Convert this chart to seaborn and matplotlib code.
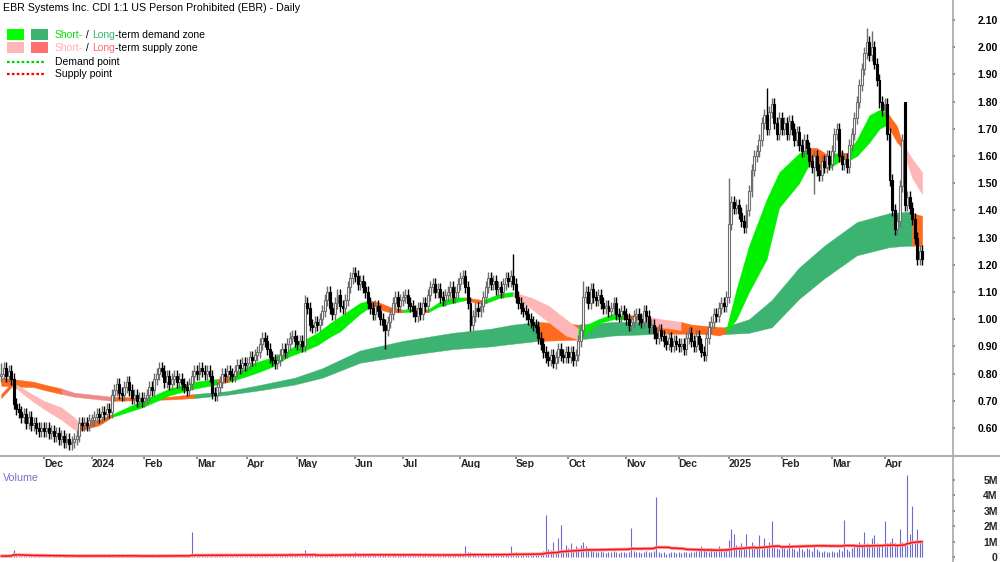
import matplotlib
matplotlib.use("Agg")
import matplotlib.pyplot as plt
import seaborn as sns
import pandas as pd
import numpy as np
from matplotlib.lines import Line2D
from matplotlib.patches import Rectangle

sns.set_theme(style="white")
plt.rcParams["font.family"] = ["Liberation Sans", "DejaVu Sans"]

TITLE = "EBR Systems Inc. CDI 1:1 US Person Prohibited (EBR) - Daily"

# ASX non-trading days inside the window
HOLIDAYS = ["2023-12-25", "2023-12-26", "2024-01-01", "2024-01-26", "2024-03-29",
            "2024-04-01", "2024-04-25", "2024-06-10", "2024-12-25", "2024-12-26",
            "2025-01-01", "2025-01-27", "2025-04-18", "2025-04-21"]

# daily closes, one line per month (Nov 2023 .. Apr 2025)
close = [
    0.80, 0.82, 0.79, 0.81, 0.78, 0.69, 0.67, 0.66, 0.64, 0.65, 0.62, 0.64, 0.61, 0.62, 0.60, 0.59, 0.60,
    0.59, 0.60, 0.58, 0.59, 0.57, 0.58, 0.56, 0.57, 0.55, 0.56, 0.54, 0.55, 0.56, 0.57, 0.62, 0.61, 0.62, 0.61, 0.63,
    0.63, 0.64, 0.65, 0.64, 0.66, 0.65, 0.67, 0.66, 0.72, 0.74, 0.76, 0.73, 0.72, 0.75, 0.77, 0.74, 0.71, 0.72, 0.70, 0.71, 0.70,
    0.71, 0.72, 0.75, 0.74, 0.78, 0.80, 0.82, 0.81, 0.77, 0.79, 0.76, 0.78, 0.79, 0.77, 0.78, 0.76, 0.75, 0.74, 0.76, 0.79, 0.81,
    0.80, 0.82, 0.81, 0.80, 0.81, 0.79, 0.73, 0.72, 0.75, 0.77, 0.80, 0.79, 0.81, 0.80, 0.79, 0.81, 0.83, 0.82, 0.84, 0.83,
    0.84, 0.86, 0.85, 0.87, 0.88, 0.91, 0.93, 0.92, 0.89, 0.86, 0.85, 0.84, 0.85, 0.87, 0.89, 0.88, 0.91, 0.93, 0.94, 0.92,
    0.91, 0.92, 0.90, 1.06, 1.04, 0.98, 0.97, 0.99, 0.98, 1.00, 1.03, 1.07, 1.10, 1.04, 1.02, 1.06, 1.09, 1.05, 1.04, 1.07, 1.12, 1.15, 1.17,
    1.16, 1.13, 1.14, 1.12, 1.10, 1.06, 1.04, 1.02, 1.05, 1.03, 1.00, 0.98, 0.96, 0.99, 1.02, 1.06, 1.08, 1.05, 1.07,
    1.08, 1.09, 1.06, 1.05, 1.03, 1.01, 1.04, 1.02, 1.06, 1.05, 1.09, 1.12, 1.13, 1.10, 1.11, 1.08, 1.07, 1.09, 1.10, 1.12, 1.08, 1.10, 1.13,
    1.15, 1.16, 1.12, 1.06, 0.98, 1.01, 1.04, 1.03, 1.05, 1.08, 1.12, 1.15, 1.13, 1.14, 1.11, 1.12, 1.10, 1.13, 1.15, 1.14, 1.16, 1.13,
    1.08, 1.06, 1.04, 1.03, 1.02, 1.00, 0.99, 0.98, 0.97, 0.93, 0.91, 0.88, 0.86, 0.85, 0.87, 0.84, 0.86, 0.89, 0.87, 0.86, 0.88,
    0.86, 0.88, 0.85, 0.87, 0.92, 0.96, 1.08, 1.10, 1.06, 1.11, 1.08, 1.07, 1.09, 1.06, 1.04, 1.05, 1.03, 1.04, 1.06, 1.02, 1.01, 1.03, 1.02,
    1.00, 0.98, 0.99, 1.01, 1.02, 1.00, 0.99, 1.03, 1.01, 0.97, 0.98, 0.95, 0.93, 0.96, 0.94, 0.92, 0.91, 0.93, 0.90, 0.92, 0.91,
    0.90, 0.91, 0.89, 0.93, 0.95, 0.92, 0.90, 0.94, 0.91, 0.88, 0.87, 0.93, 0.97, 0.99, 1.02, 1.01, 1.04, 1.06, 1.05, 1.08,
    1.35, 1.43, 1.41, 1.42, 1.39, 1.36, 1.34, 1.40, 1.47, 1.55, 1.60, 1.62, 1.66, 1.72, 1.75, 1.70, 1.76, 1.79, 1.72, 1.68, 1.74,
    1.70, 1.72, 1.68, 1.73, 1.70, 1.66, 1.69, 1.64, 1.62, 1.66, 1.63, 1.58, 1.56, 1.60, 1.55, 1.53, 1.58, 1.56, 1.60, 1.57,
    1.62, 1.68, 1.70, 1.60, 1.57, 1.59, 1.56, 1.64, 1.68, 1.74, 1.80, 1.86, 1.92, 1.98, 2.02, 1.97, 2.00, 1.94, 1.88, 1.80, 1.77,
    1.79, 1.68, 1.51, 1.40, 1.33, 1.36, 1.49, 1.66, 1.42, 1.45, 1.41, 1.37, 1.30, 1.22, 1.25, 1.22,
]

# daily volume in thousands of shares, one line per month
volume_k = [
    60, 80, 50, 90, 120, 450, 150, 90, 70, 60, 80, 50, 40, 60, 70, 40, 50,
    50, 40, 60, 30, 50, 40, 70, 30, 50, 40, 60, 50, 30, 40, 120, 80, 60, 50, 70,
    60, 50, 40, 70, 60, 50, 80, 60, 200, 150, 120, 90, 80, 110, 130, 90, 70, 60, 50, 60, 40,
    50, 60, 90, 70, 130, 110, 150, 100, 80, 70, 60, 90, 70, 60, 80, 50, 60, 70, 90, 1600, 120,
    150, 100, 80, 70, 60, 90, 200, 150, 100, 80, 70, 60, 80, 50, 60, 70, 90, 80, 60, 70,
    80, 100, 90, 120, 150, 200, 180, 120, 100, 90, 80, 70, 90, 100, 150, 110, 200, 250, 180, 120,
    100, 90, 80, 450, 250, 150, 120, 100, 90, 110, 130, 200, 180, 120, 100, 130, 150, 110, 90, 120, 180, 200, 250,
    300, 200, 150, 120, 100, 130, 110, 90, 100, 80, 120, 150, 200, 110, 90, 130, 150, 100, 120,
    110, 100, 90, 120, 100, 80, 110, 90, 130, 100, 150, 180, 160, 120, 100, 90, 110, 120, 140, 160, 110, 130, 150,
    180, 200, 700, 300, 350, 200, 150, 140, 130, 160, 180, 250, 200, 150, 140, 160, 130, 150, 200, 180, 700, 250,
    300, 200, 180, 160, 150, 200, 180, 160, 220, 250, 300, 400, 2700, 500, 450, 1000, 350, 1200, 2100, 400, 800,
    600, 900, 500, 700, 600, 800, 1000, 700, 500, 500, 400, 300, 350, 400, 300, 250, 300, 350, 400, 300, 250, 300, 350,
    250, 300, 1900, 400, 350, 300, 250, 300, 400, 350, 300, 400, 3850, 300, 250, 300, 200, 250, 300, 350, 250,
    300, 250, 350, 300, 250, 300, 350, 400, 450, 700, 500, 400, 350, 600, 400, 450, 700, 500, 400, 600,
    1100, 1800, 1500, 800, 700, 900, 600, 1500, 700, 1000, 800, 600, 1400, 500, 1200, 600, 1000, 2300, 700, 600, 500,
    800, 600, 500, 900, 600, 500, 400, 700, 500, 400, 600, 500, 400, 800, 500, 400, 350, 400, 300, 350,
    400, 300, 350, 500, 400, 2400, 500, 400, 600, 800, 700, 1000, 800, 1600, 900, 800, 1200, 1400, 900, 700, 800,
    2300, 900, 1000, 1200, 900, 800, 1800, 1000, 900, 5300, 1500, 3300, 1100, 1800, 1100, 1000,
]

# notable gaps and wicks
open_fix = {"2025-04-11": 1.80}
high_fix = {"2023-11-08": 0.84, "2024-05-06": 1.09, "2024-08-30": 1.24, "2024-10-09": 1.14,
            "2025-01-02": 1.52, "2025-01-23": 1.85, "2025-03-21": 2.07, "2025-03-25": 2.06,
            "2025-04-11": 1.80}
low_fix = {"2024-03-12": 0.70, "2024-06-20": 0.89, "2024-09-23": 0.82, "2024-12-13": 0.86,
           "2025-02-20": 1.46}

# short-term zone band: bar number, upper, lower, state (d demand, s supply, x turning)
short_bar = [0, 5, 6, 13, 17, 24, 29, 31, 39, 44, 56, 67, 77, 86, 91, 101, 108, 114, 121, 126,
             131, 135, 143, 147, 151, 155, 160, 165, 170, 174, 180, 185, 192, 199, 204, 211, 218,
             225, 230, 238, 244, 248, 255, 263, 271, 279, 286, 289, 293, 298, 305, 310, 318, 322,
             325, 330, 334, 337, 341, 346, 350, 353, 357, 359, 363, 367]
short_top = [0.725, 0.775, 0.76, 0.72, 0.70, 0.675, 0.64, 0.62, 0.63, 0.65, 0.70, 0.745, 0.77, 0.78,
             0.79, 0.84, 0.86, 0.885, 0.925, 0.95, 0.985, 1.01, 1.06, 1.07, 1.06, 1.045, 1.035, 1.04,
             1.035, 1.06, 1.08, 1.08, 1.07, 1.095, 1.10, 1.08, 1.05, 1.00, 0.965, 1.00, 1.02, 1.015,
             1.015, 1.00, 0.99, 0.97, 0.965, 0.965, 1.11, 1.27, 1.44, 1.54, 1.61, 1.63, 1.63, 1.60,
             1.615, 1.61, 1.66, 1.75, 1.77, 1.76, 1.71, 1.65, 1.59, 1.54]
short_bot = [0.71, 0.76, 0.745, 0.695, 0.67, 0.63, 0.595, 0.59, 0.61, 0.64, 0.675, 0.72, 0.745, 0.76,
             0.77, 0.80, 0.825, 0.86, 0.885, 0.905, 0.935, 0.955, 1.02, 1.045, 1.035, 1.025, 1.025, 1.03,
             1.025, 1.045, 1.06, 1.07, 1.055, 1.08, 1.085, 1.04, 0.99, 0.94, 0.925, 0.985, 1.00, 1.00,
             0.997, 0.97, 0.96, 0.95, 0.94, 0.95, 1.00, 1.10, 1.22, 1.41, 1.50, 1.57, 1.555, 1.555,
             1.58, 1.58, 1.60, 1.65, 1.70, 1.715, 1.65, 1.63, 1.52, 1.46]
short_zone = list("xdsssssxxd" "dddxdddddd" "dddxxxdxdd" "dxddssssdd" "dxssxxxddd" "dddxxdxddd" "dxxsss")

# long-term zone band
long_bar = [0, 13, 17, 24, 29, 44, 56, 67, 77, 90, 104, 117, 128, 143, 160, 180, 195, 204, 214,
            230, 244, 259, 261, 288, 298, 307, 318, 328, 341, 354, 361, 363, 367]
long_top = [0.785, 0.77, 0.76, 0.745, 0.73, 0.715, 0.712, 0.715, 0.725, 0.735, 0.76, 0.785, 0.82,
            0.885, 0.92, 0.95, 0.965, 0.98, 0.99, 0.98, 0.99, 0.99, 0.99, 0.97, 1.00, 1.07, 1.19,
            1.27, 1.357, 1.39, 1.395, 1.39, 1.38]
long_bot = [0.755, 0.75, 0.74, 0.725, 0.715, 0.70, 0.702, 0.705, 0.71, 0.722, 0.74, 0.76, 0.785,
            0.84, 0.865, 0.89, 0.90, 0.91, 0.92, 0.925, 0.94, 0.945, 0.947, 0.945, 0.95, 0.97, 1.075,
            1.15, 1.235, 1.265, 1.27, 1.27, 1.27]
long_zone = list("XXXSSXXXDD" "DDDDDDDDXD" "DDXDDDDDDD" "DXX")

price_ticks = [0.60, 0.70, 0.80, 0.90, 1.00, 1.10, 1.20, 1.30, 1.40, 1.50, 1.60, 1.70, 1.80, 1.90, 2.00, 2.10]
vol_ticks = [0, 1e6, 2e6, 3e6, 4e6, 5e6]
vol_labels = ["0", "1M", "2M", "3M", "4M", "5M"]

ZONE_COLORS = {"d": "#00F000", "s": "#FFB6B6", "x": "#FF6A1E",
               "D": "#3CB371", "S": "#F08A8A", "X": "#FF6A1E"}

# ---- build the candle table
dates = pd.bdate_range("2023-11-08", "2025-04-24", freq="C", holidays=HOLIDAYS)
df = pd.DataFrame({"date": dates, "close": close, "volume": np.array(volume_k) * 1000.0})
df["bar"] = np.arange(len(df))
df["open"] = df["close"].shift(1).fillna(0.79)
key = df["date"].dt.strftime("%Y-%m-%d")
df.loc[key.isin(open_fix), "open"] = key[key.isin(open_fix)].map(open_fix)
WICK = 0.022
df["high"] = df[["open", "close"]].max(axis=1) + WICK
df["low"] = df[["open", "close"]].min(axis=1) - WICK
df.loc[key.isin(high_fix), "high"] = key[key.isin(high_fix)].map(high_fix)
df.loc[key.isin(low_fix), "low"] = key[key.isin(low_fix)].map(low_fix)
df["vol_ma"] = df["volume"].rolling(50, min_periods=1).mean()

W, H = 1000, 562
fig = plt.figure(figsize=(10, 5.62), dpi=100)
ax = fig.add_axes([0, 1 - 455 / H, 952 / W, 455 / H])
axv = fig.add_axes([0, 0, 952 / W, 94 / H])
for a in (ax, axv):
    for sp in a.spines.values():
        sp.set_visible(False)
    a.set_xlim(-0.5, 378.9)


def draw_band(bars, top, bot, zone):
    i = 0
    n = len(bars)
    while i < n - 1:
        j = i + 1
        while j < n - 1 and zone[j] == zone[i]:
            j += 1
        ax.fill_between(bars[i:j + 1], bot[i:j + 1], top[i:j + 1],
                        color=ZONE_COLORS[zone[i]], lw=0.3, edgecolor=ZONE_COLORS[zone[i]], zorder=1)
        i = j


draw_band(long_bar, long_top, long_bot, long_zone)
draw_band(short_bar, short_top, short_bot, short_zone)

# candles
up = df["close"] >= df["open"]
for mask, face, edge in ((up, "white", "#6E6E6E"), (~up, "black", "black")):
    d = df[mask]
    ax.vlines(d["bar"], d["low"], d["high"], color=edge, lw=1.0, zorder=3)
    ax.bar(d["bar"], (d["close"] - d["open"]).abs().clip(lower=0.006), bottom=d[["open", "close"]].min(axis=1),
           width=0.78, color=face, edgecolor=edge, linewidth=0.8, zorder=4)

ax.set_ylim(0.5007, 2.1735)
ax.yaxis.tick_right()
ax.set_yticks(price_ticks, [f"{v:.2f}" for v in price_ticks], ha="right", fontsize=7.5, fontweight="bold")
ax.tick_params(axis="y", length=2.5, color="#808080", pad=30.5, labelcolor="black")

# month ticks
df["month"] = df["date"].dt.to_period("M")
firsts = df.groupby("month")["bar"].min().iloc[1:]
labels = [str(p.year) if p.month == 1 else p.strftime("%b") for p in firsts.index]
ax.set_xticks(firsts.values, labels, ha="left", fontsize=7.5, fontweight="bold")
ax.tick_params(axis="x", direction="out", bottom=True, length=2.6, color="#808080", pad=0.3)

# volume panel
axv.vlines(df["bar"], 0, df["volume"], color="#6C6CCF", lw=0.8, zorder=2)
sns.lineplot(x=df["bar"], y=df["vol_ma"], ax=axv, color="#FFA0A0", lw=2.4, zorder=3)
sns.lineplot(x=df["bar"], y=df["vol_ma"], ax=axv, color="#FF1010", lw=1.1, zorder=4)
axv.set_ylim(-0.32e6, 5.75e6)
axv.set_xlabel("")
axv.set_ylabel("")
axv.set_xticks([])
axv.yaxis.tick_right()
axv.set_yticks(vol_ticks, vol_labels, ha="right", fontsize=7.5, fontweight="bold")
axv.tick_params(axis="y", length=2.5, color="#808080", pad=30.5)

# frame lines
fig.add_artist(Line2D([0, 1], [1 - 455.5 / H] * 2, color="#A8A8A8", lw=1.3))
fig.add_artist(Line2D([952.5 / W] * 2, [0, 1], color="#A8A8A8", lw=1.2))

# title and legend
fig.text(3 / W, 1 - 8 / H, TITLE, fontsize=7.7, va="center", ha="left", color="black")
fig.text(3 / W, 1 - 478 / H, "Volume", fontsize=7.7, va="center", ha="left", color="#7373C8")

rows = [(35, "#00FF00", "#3CB371", [("Short-", "#00E000"), (" / ", "black"), ("Long", "#3CB371"),
                                     ("-term demand zone", "black")]),
        (48, "#FFB6B6", "#FF7070", [("Short-", "#FFB0B0"), (" / ", "black"), ("Long", "#FF6A6A"),
                                     ("-term supply zone", "black")])]
renderer = fig.canvas.get_renderer()
for y, c1, c2, pieces in rows:
    fig.add_artist(Rectangle((7 / W, 1 - (y + 5) / H), 17 / W, 11 / H, color=c1, lw=0))
    fig.add_artist(Rectangle((31 / W, 1 - (y + 5) / H), 17 / W, 11 / H, color=c2, lw=0))
    x = 55
    for s, c in pieces:
        t = fig.text(x / W, 1 - y / H, s, fontsize=7.5, va="center", ha="left", color=c)
        x += t.get_window_extent(renderer).width

for y, c, s in ((62, "#00CC00", "Demand point"), (74, "#FF0000", "Supply point")):
    fig.add_artist(Line2D([7 / W, 45 / W], [1 - y / H] * 2, color=c, lw=1.6, ls=(0, (1.2, 1.0))))
    fig.text(55 / W, 1 - y / H, s, fontsize=7.5, va="center", ha="left", color="black")

fig.savefig("out.png", dpi=100)
